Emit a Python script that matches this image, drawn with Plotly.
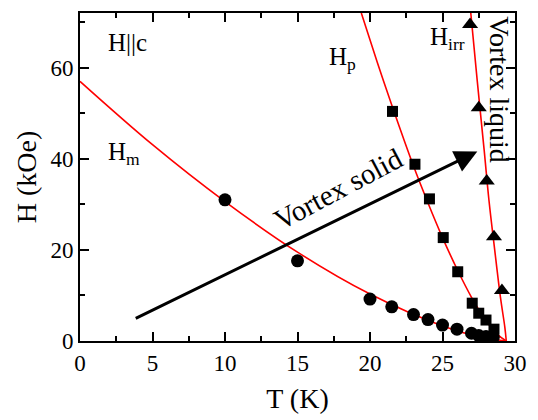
import plotly.graph_objects as go

# Data
hm_T = [10.0, 15.0, 20.0, 21.5, 23.0, 24.0, 25.0, 26.0, 27.0, 27.5, 28.0, 28.5]
hm_H = [31.0, 17.6, 9.2, 7.5, 5.8, 4.7, 3.5, 2.6, 1.7, 1.2, 1.0, 0.8]

hp_T = [21.55, 23.1, 24.1, 25.05, 26.05, 27.05, 27.5, 28.0, 28.55]
hp_H = [50.4, 38.8, 31.2, 22.7, 15.2, 8.3, 6.1, 4.6, 2.6]

hirr_T = [26.9, 27.5, 28.05, 28.55, 29.1]
hirr_H = [69.5, 51.2, 35.1, 22.9, 11.1]

# Red guide curves
hm_fit_T = [0, 5, 10, 15, 20, 25, 27.5, 29.4]
hm_fit_H = [57.0, 43.1, 30.6, 19.5, 10.3, 3.3, 0.95, 0.0]

hp_fit_T = [19.4, 20.5, 21.5, 23.0, 24.0, 25.0, 26.0, 27.0, 28.0, 28.8, 29.4]
hp_fit_H = [72.0, 61.2, 51.8, 38.4, 30.3, 22.7, 15.8, 9.6, 4.5, 1.4, 0.0]

hirr_fit_T = [26.95, 27.4, 27.87, 28.2, 28.6, 29.0, 29.3, 29.4]
hirr_fit_H = [72.0, 57.0, 42.0, 31.0, 20.0, 9.5, 3.0, 0.0]

x_ticks = [0, 5, 10, 15, 20, 25, 30]
y_ticks = [0, 20, 40, 60]

FONT = "Liberation Serif, Times New Roman, serif"
red = "#ff0000"

fig = go.Figure()
for T, H in [(hm_fit_T, hm_fit_H), (hp_fit_T, hp_fit_H), (hirr_fit_T, hirr_fit_H)]:
    fig.add_trace(go.Scatter(x=T, y=H, mode="lines", line=dict(color=red, width=1.6, shape="spline"),
                             hoverinfo="skip"))

fig.add_trace(go.Scatter(x=hm_T, y=hm_H, mode="markers",
                         marker=dict(symbol="circle", size=13, color="black")))
fig.add_trace(go.Scatter(x=hp_T, y=hp_H, mode="markers",
                         marker=dict(symbol="square", size=11, color="black")))
fig.add_trace(go.Scatter(x=hirr_T, y=hirr_H, mode="markers",
                         marker=dict(symbol="triangle-up", size=14, color="black")))

lab = dict(family=FONT, color="black", size=25)
big = dict(family=FONT, color="black", size=28)
annos = [
    dict(x=27.4, y=41.6, ax=3.74, ay=4.8, axref="x", ayref="y", xref="x", yref="y",
         text="", showarrow=True, arrowhead=2, arrowsize=1.5, arrowwidth=3, arrowcolor="black"),
    dict(x=17.8, y=33.3, text="Vortex solid", textangle=-28, showarrow=False,
         font=dict(family=FONT, color="black", size=29)),
    dict(x=28.95, y=55.3, text="Vortex liquid", textangle=90, showarrow=False, font=big),
    dict(x=1.8, y=65.5, text="H||c", showarrow=False, xanchor="left", font=lab),
    dict(x=1.8, y=41.2, text="H<sub>m</sub>", showarrow=False, xanchor="left", font=lab),
    dict(x=17.0, y=62.0, text="H<sub>p</sub>", showarrow=False, xanchor="left", font=lab),
    dict(x=24.0, y=66.5, text="H<sub>irr</sub>", showarrow=False, xanchor="left", font=lab),
]

axis_common = dict(showline=True, linecolor="black", linewidth=2, mirror="ticks",
                   ticks="inside", ticklen=9, tickwidth=1.5, tickcolor="black",
                   showgrid=False, zeroline=False,
                   tickfont=dict(size=23, color="black", family=FONT))

fig.update_layout(
    width=538, height=420,
    margin=dict(l=80, r=22, t=11, b=75),
    paper_bgcolor="white", plot_bgcolor="white",
    showlegend=False,
    font=dict(family=FONT, color="black", size=23),
    annotations=annos,
    xaxis=dict(range=[0, 30], tickvals=x_ticks,
               minor=dict(dtick=2.5, ticklen=5, tickwidth=1.5, ticks="inside", tickcolor="black"),
               title=dict(text="T (K)", font=big, standoff=14), **axis_common),
    yaxis=dict(range=[0, 72], tickvals=y_ticks,
               minor=dict(dtick=10, ticklen=5, tickwidth=1.5, ticks="inside", tickcolor="black"),
               title=dict(text="H (kOe)", font=big, standoff=6), **axis_common),
)

fig.write_html("out.html")
